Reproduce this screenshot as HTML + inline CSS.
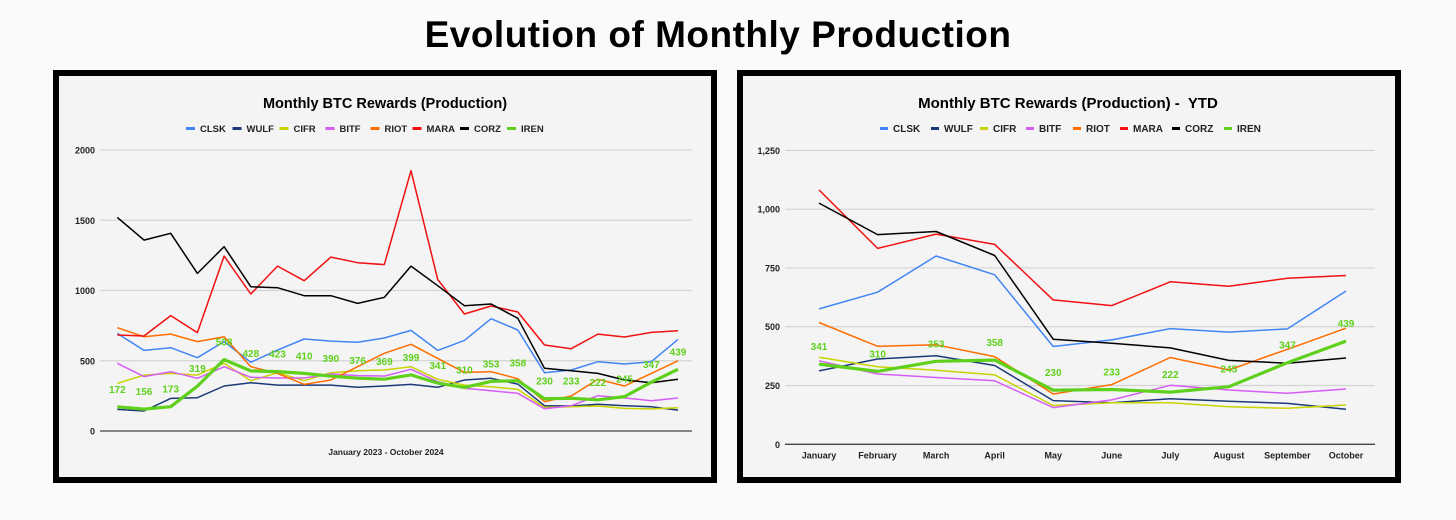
<!DOCTYPE html>
<html><head><meta charset="utf-8">
<style>
body{margin:0;width:1456px;height:520px;background:#fafafa;font-family:"Liberation Sans",sans-serif;overflow:hidden;position:relative}
#title{position:absolute;left:-10px;width:1456px;top:14px;text-align:center;font-size:37px;font-weight:bold;color:#000;letter-spacing:0.5px}
.panel{position:absolute;top:70px;height:401px;border:6px solid #000;background:#f4f4f4}
svg{position:absolute;left:0;top:0}
</style></head>
<body>
<div id="title">Evolution of Monthly Production</div>
<div class="panel" style="left:53px;width:652px"></div>
<div class="panel" style="left:737px;width:652px"></div>
<svg id="chart" width="1456" height="520"></svg>
<script>
const seriesNames=["CLSK","WULF","CIFR","BITF","RIOT","MARA","CORZ","IREN"];
const seriesColors=["#4285f4","#1c3a78","#c8d400","#d65df5","#ff6d00","#f21010","#000000","#5fd11c"];
// Left chart: Jan 2023 - Oct 2024 (22 months)
const leftCLSK=[695,574,593,522,636,489,576,655,640,631,662,716,574,645,799,719,415,434,493,477,493,652];
const leftWULF=[154,142,232,237,320,344,327,327,327,311,320,332,311,363,375,334,180,178,190,180,173,149];
const leftCIFR=[339,398,410,398,482,358,415,358,415,429,434,458,368,327,315,296,168,173,178,161,157,166];
const leftBITF=[482,387,422,375,458,382,377,377,406,394,391,439,351,304,287,268,159,180,251,235,216,235];
const leftRIOT=[735,671,690,636,671,458,410,332,363,458,553,617,517,417,422,372,209,249,368,320,410,500];
const leftMARA=[683,676,821,700,1245,975,1174,1070,1238,1198,1184,1853,1079,833,890,847,612,586,690,669,702,714];
const leftCORZ=[1520,1359,1407,1122,1312,1027,1020,963,963,908,951,1174,1034,892,904,802,446,429,410,363,344,368];
const leftIREN=[172,156,173,319,508,428,423,410,390,376,369,399,341,310,353,358,230,233,222,245,347,439];
const leftTicks=[0,500,1000,1500,2000];
// Right chart: YTD 2024
const rightMonths=["January","February","March","April","May","June","July","August","September","October"];
const rightCLSK=[576,647,801,721,416,444,492,477,491,652];
const rightWULF=[312,363,377,335,186,177,194,183,174,149];
const rightCIFR=[370,330,315,295,165,177,177,160,153,167];
const rightBITF=[355,299,284,270,156,189,251,231,217,235];
const rightRIOT=[518,417,423,373,214,254,369,316,404,494];
const rightMARA=[1082,833,894,850,614,590,691,672,706,718];
const rightCORZ=[1026,892,905,803,447,430,410,357,345,367];
const rightIREN=[341,310,353,358,230,233,222,245,347,439];
const rightTicks=[0,250,500,750,1000,1250];
const rightTickLabels=["0","250","500","750","1,000","1,250"];

const NS="http://www.w3.org/2000/svg";
const svg=document.getElementById('chart');
function mk(tag,attrs,parent){const e=document.createElementNS(NS,tag);for(const k in attrs)e.setAttribute(k,attrs[k]);(parent||svg).appendChild(e);return e;}
function txt(s,attrs){const t=mk('text',attrs);t.textContent=s;return t;}

function drawChart(cfg){
  const yS=v=>cfg.y0-(v/cfg.ymax)*(cfg.y0-cfg.ytop);
  const n=cfg.series[0].length;
  const xS=i=>cfg.x0+i*(cfg.x1-cfg.x0)/(n-1);
  let t=txt(cfg.title,{x:cfg.tx,y:108,'text-anchor':'middle','font-size':cfg.tfs,'font-weight':'bold',fill:'#000','xml:space':'preserve'});
  t.style.whiteSpace='pre';
  
  
  let lx=cfg.lx;
  seriesNames.forEach((nm,i)=>{
    const r=mk('rect',{x:lx,y:127,width:cfg.sw,height:3,fill:seriesColors[i]});
    
    
    const lt=txt(nm,{x:lx+cfg.sw+5,y:132,'font-size':cfg.lfs,'font-weight':'bold',fill:'#222'});
    
    
    lx+=cfg.lstep[i];
  });
  cfg.ticks.forEach((v,i)=>{
    const y=yS(v);
    const ln=mk('line',{x1:cfg.gx0,x2:cfg.gx1,y1:y,y2:y,stroke:v===0?'#444':'#d4d4d4','stroke-width':v===0?1.3:1.2});
    
    
    const tl=txt(cfg.tickLabels[i],{x:cfg.gx0-5,y:y+3.5,'text-anchor':'end','font-size':9,'font-weight':'bold',fill:'#222'});
    
    
  });
  if(cfg.cats){cfg.cats.forEach((c,i)=>{
    const xt=txt(c,{x:xS(i),y:cfg.y0+14,'text-anchor':'middle','font-size':9,'font-weight':'bold',fill:'#222'});
    
    
  });}
  if(cfg.xtitle){const xt=txt(cfg.xtitle,{x:cfg.xtx,y:cfg.y0+24,'text-anchor':'middle','font-size':8.5,'font-weight':'bold',fill:'#222'});
    
    }
  cfg.series.forEach((arr,si)=>{
    const pts=arr.map((v,i)=>xS(i).toFixed(1)+','+yS(v).toFixed(1)).join(' ');
    const pl=mk('polyline',{points:pts,fill:'none',stroke:seriesColors[si],'stroke-width':si===7?3.2:1.5,'stroke-linejoin':'round'});
    
    
  });
  cfg.series[7].forEach((v,i)=>{
    const lb=txt(String(v),{x:xS(i),y:yS(v)-14,'text-anchor':'middle','font-size':10,'font-weight':'bold',fill:'#5fd11c'});
    
    
  });
}
drawChart({prefix:'left',title:'Monthly BTC Rewards (Production)',tx:385,tfs:14.5,lx:186,sw:9,lfs:9.5,lstep:[46.5,47,46,45,42,47.5,47,47],
  x0:117.3,x1:678,y0:431,ytop:150,ymax:2000,gx0:100,gx1:692,ticks:leftTicks,tickLabels:leftTicks.map(String),
  xtitle:'January 2023 - October 2024',xtx:386,
  series:[leftCLSK,leftWULF,leftCIFR,leftBITF,leftRIOT,leftMARA,leftCORZ,leftIREN]});
drawChart({prefix:'right',title:'Monthly BTC Rewards (Production) -  YTD',tx:1068,tfs:15,lx:880,sw:8,lfs:10,lstep:[51,49,46,47,47,52,52,52],
  x0:819,x1:1346,y0:444.3,ytop:150.4,ymax:1250,gx0:785,gx1:1375,ticks:rightTicks,tickLabels:rightTickLabels,
  cats:rightMonths,
  series:[rightCLSK,rightWULF,rightCIFR,rightBITF,rightRIOT,rightMARA,rightCORZ,rightIREN]});
</script>
</body></html>
